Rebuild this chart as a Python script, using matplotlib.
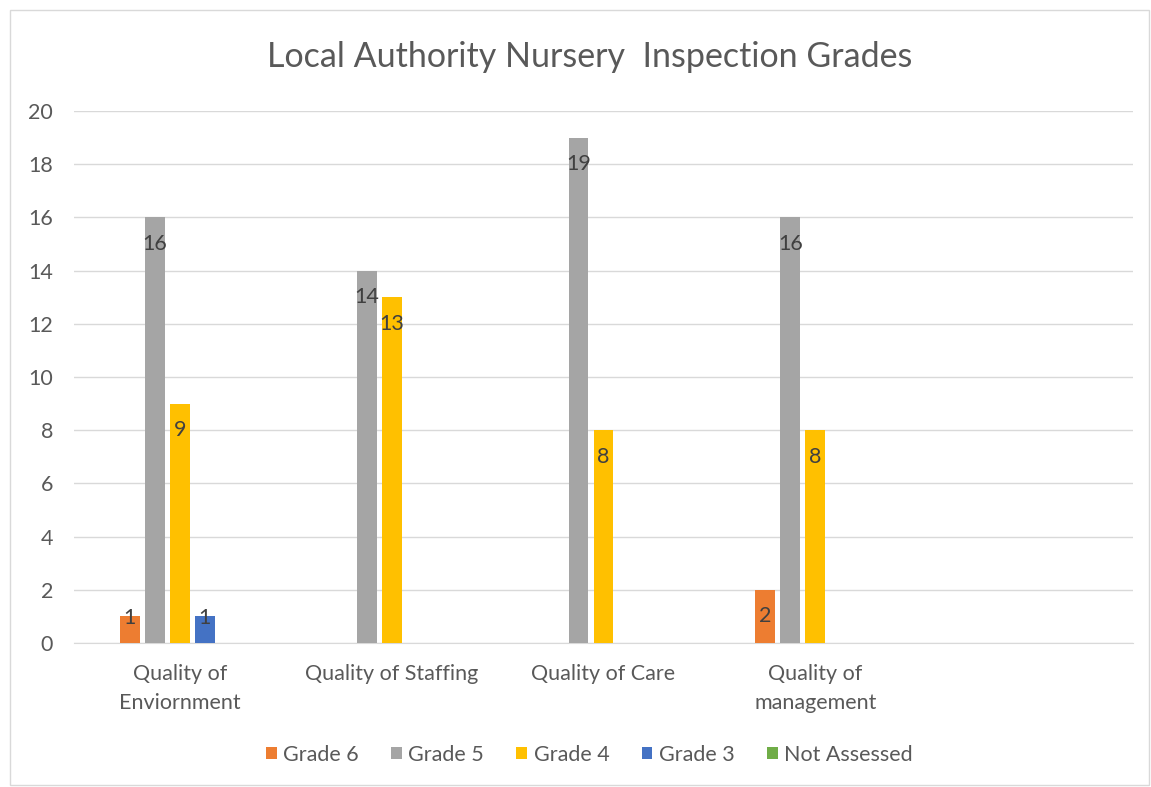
import numpy as np
import matplotlib
matplotlib.use("Agg")
from matplotlib import pyplot as plt
from matplotlib.patches import Rectangle

# categories (last one is an empty slot, as in the original sheet)
categories = ["Quality of\nEnviornment", "Quality of Staffing", "Quality of Care",
              "Quality of\nmanagement", ""]
series = ["Grade 6", "Grade 5", "Grade 4", "Grade 3", "Not Assessed"]
grade6 = [1, 0, 0, 2, 0]
grade5 = [16, 14, 19, 16, 0]
grade4 = [9, 13, 8, 8, 0]
grade3 = [1, 0, 0, 0, 0]
not_assessed = [0, 0, 0, 0, 0]
values = [grade6, grade5, grade4, grade3, not_assessed]
colors = ["#ED7D31", "#A5A5A5", "#FFC000", "#4472C4", "#70AD47"]

plt.rcParams['font.family'] = ['Lato', 'DejaVu Sans']
txt = "#595959"
fs = 15.5

fig = plt.figure(figsize=(11.51, 7.87), dpi=100)
fig.patches.append(Rectangle((0.009, 0.003), 0.989, 0.984, transform=fig.transFigure,
                             fill=False, edgecolor="#d9d9d9", lw=1))
ax = fig.add_axes([74 / 1151, 1 - 643 / 787, (1133 - 74) / 1151, (643 - 111) / 787])

x = np.arange(len(categories))
slot = 0.118
width = 0.094
for i, (name, vals, c) in enumerate(zip(series, values, colors)):
    pos = x + (i - 2) * slot
    ax.bar(pos, vals, width, color=c, label=name, zorder=3)
    for p, v in zip(pos, vals):
        if v > 0:
            ax.text(p, max(v - 1.0, 0.95), str(v), ha="center", va="center",
                    fontsize=fs, color="#404040", zorder=4)

ax.set_xlim(-0.5, len(categories) - 0.5)
ax.set_ylim(0, 20)
ax.set_yticks(range(0, 21, 2))
ax.set_xticks(x)
ax.set_xticklabels(categories, fontsize=fs, color=txt, linespacing=1.55)
ax.tick_params(axis="y", labelsize=fs, colors=txt, length=0, pad=15)
ax.tick_params(axis="x", length=0, pad=15)
ax.grid(axis="y", color="#d9d9d9", lw=1, zorder=0)
for s in ["top", "right", "left"]:
    ax.spines[s].set_visible(False)
ax.spines["bottom"].set_color("#d9d9d9")

fig.text(0.512, 1 - 57 / 787, "Local Authority Nursery  Inspection Grades",
         ha="center", va="center", fontsize=24.5, color=txt)

leg = fig.legend(loc="center", bbox_to_anchor=(0.512, 1 - 755 / 787), ncol=5,
                 frameon=False, fontsize=fs, handlelength=0.5, handleheight=0.5,
                 handletextpad=0.3, columnspacing=1.5)
for t in leg.get_texts():
    t.set_color(txt)

fig.savefig("out.png", dpi=100)
